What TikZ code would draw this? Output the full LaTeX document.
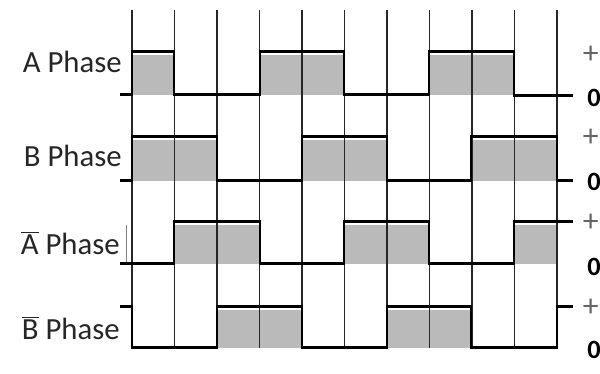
\documentclass[tikz,border=0pt]{standalone}
\usepackage{fontspec}
\setmainfont{Carlito}

\begin{document}
\begin{tikzpicture}[x=0.02cm,y=-0.02cm,
    wave/.style={line width=1.7pt,line join=miter},
    gridline/.style={line width=1pt,black!85},
    pulse/.style={fill=black!27},
    phase/.style={anchor=base east,inner sep=0pt,text=black!85,font=\fontsize{17.5}{20}\selectfont},
    level/.style={inner sep=0pt,font=\fontsize{15}{17}\selectfont\bfseries},
    sign/.style={anchor=east,inner sep=0pt,text=black!60,font=\fontsize{18}{20}\selectfont}]
    \useasboundingbox (0,0) rectangle (600,374);
    % shaded pulses
    \foreach \xa/\xb/\yh/\yl in {132/174/55/95, 260/344/55/95, 429/514/55/95,
        132/217/140/181, 302/387/140/181, 471/557/140/181,
        174/260/225/264, 344/429/225/264, 514/557/225/264,
        217/302/310/348, 387/471/310/348}
    \fill[pulse] (\xa,\yh) rectangle (\xb,\yl);
    % time grid
    \foreach \i in {0,...,10}
    \draw[gridline] (132+42.5*\i,10) -- (132+42.5*\i,348);
    % waveforms
    \draw[wave] (120,95) -- (132,95) -- (132,52) -- (174,52) -- (174,95)
    -- (260,95) -- (260,52) -- (344,52) -- (344,95) -- (429,95)
    -- (429,52) -- (514,52) -- (514,96) -- (573,96);
    \draw[wave] (120,181) -- (132,181) -- (132,137) -- (217,137) -- (217,181)
    -- (302,181) -- (302,137) -- (387,137) -- (387,181) -- (471,181)
    -- (471,137) -- (557,137) -- (557,181) -- (573,181);
    \draw[wave] (120,264) -- (174,264) -- (174,222) -- (260,222) -- (260,264)
    -- (344,264) -- (344,222) -- (429,222) -- (429,264) -- (514,264)
    -- (514,222) -- (573,222);
    \draw[wave] (120,307) -- (132,307) -- (132,348) -- (217,348) -- (217,307)
    -- (302,307) -- (302,348) -- (387,348) -- (387,307) -- (471,307)
    -- (471,348) -- (557,348) -- (557,307) -- (573,307);
    \draw[black!50,line width=0.5pt] (126,225) -- (126,262);
    % phase names
    \node[phase] (nameA) at (122,73) {A Phase};
    \node[phase] (nameB) at (122,167) {B Phase};
    \node[phase] (nameAbar) at (120,255) {$\overline{\mbox{A}}$ Phase};
    \node[phase] (nameBbar) at (120,340) {$\overline{\mbox{B}}$ Phase};
    % levels
    \foreach \n/\yp/\yz in {A/55/98, B/138/182, Abar/223/267, Bbar/308/350} {
        \node[sign] (plus\n) at (599,\yp) {+};
        \node[level] (zero\n) at (594,\yz) {0};
    }
\end{tikzpicture}
\end{document}
